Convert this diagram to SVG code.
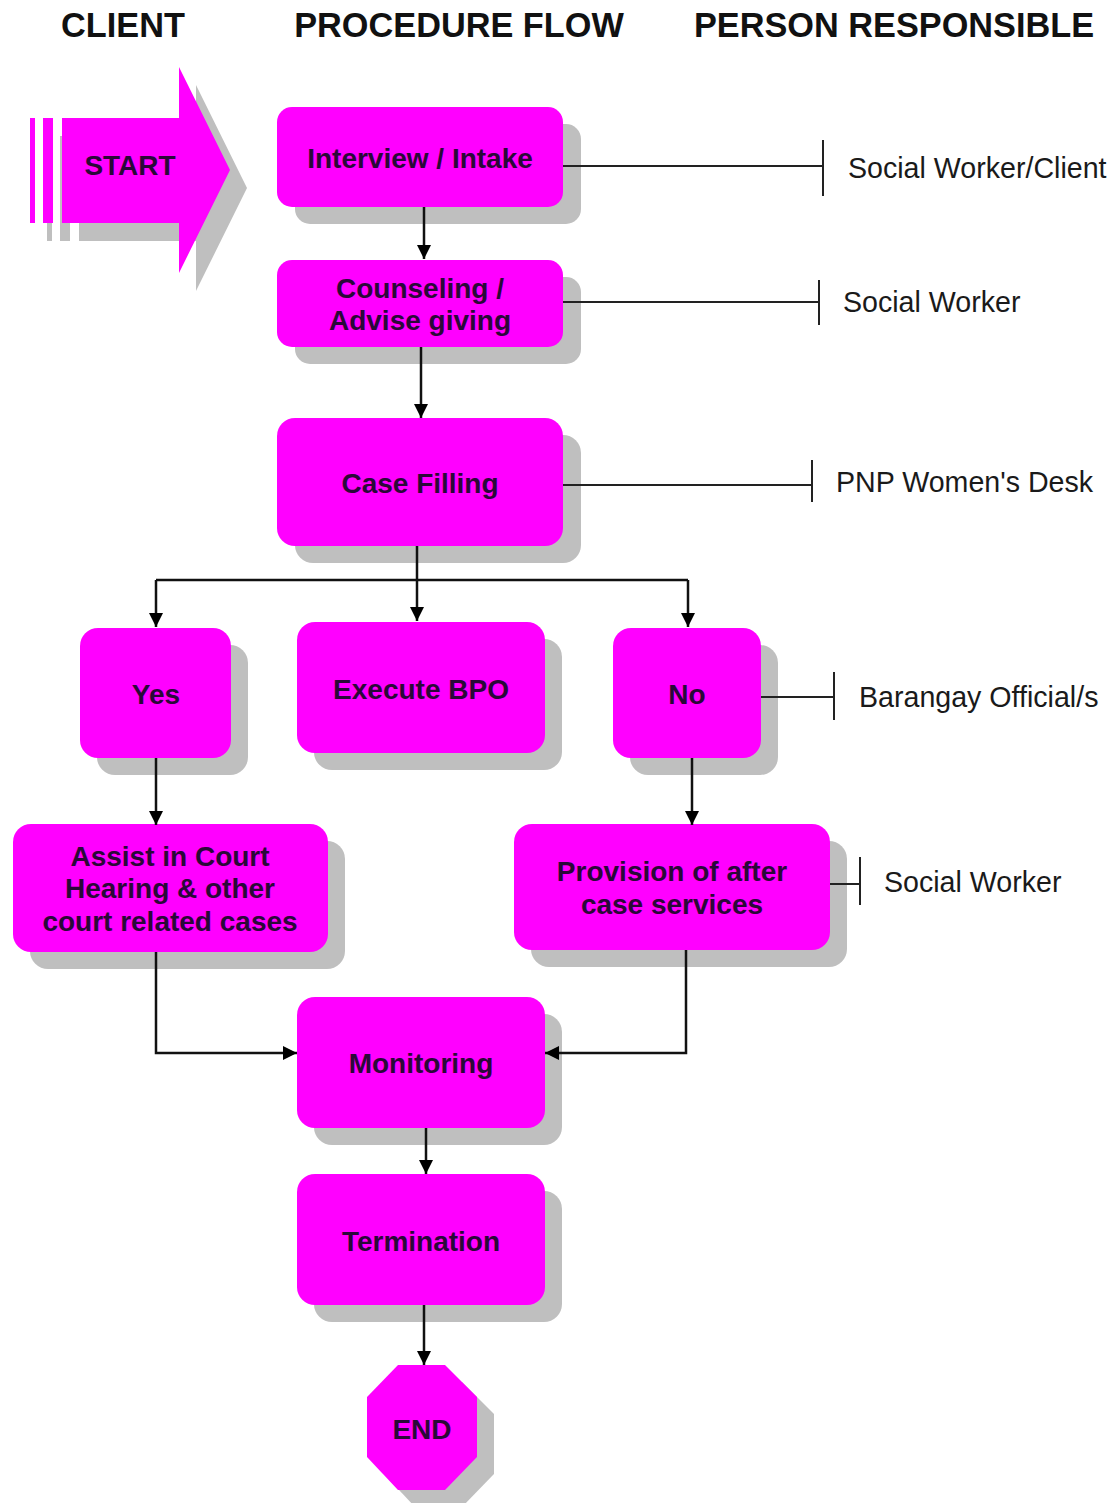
<svg xmlns="http://www.w3.org/2000/svg" width="1115" height="1503" viewBox="0 0 1115 1503">
<defs>
<style>
.title{font-family:"Liberation Sans",Arial,sans-serif;font-weight:bold;font-size:34.3px;fill:#111;text-anchor:middle}
.node{fill:#ff00ff}
.shadow{fill:#bfbfbf}
.nt{font-family:"Liberation Sans",Arial,sans-serif;font-weight:bold;font-size:28px;fill:#2a0838;text-anchor:middle}
.lbl{font-family:"Liberation Sans",Arial,sans-serif;font-size:28.6px;fill:#1a1a1a}
.ln{stroke:#111;stroke-width:2.5;fill:none}
.rl{stroke:#222;stroke-width:2;fill:none}
</style>
<marker id="ah" viewBox="0 0 14 14" refX="14" refY="7" markerWidth="14" markerHeight="14" markerUnits="userSpaceOnUse" orient="auto">
<path d="M0,0 L14,7 L0,14 Z" fill="#000"/>
</marker>
</defs>
<rect width="1115" height="1503" fill="#fff"/>
<g id="titles">
<text class="title" x="123" y="37">CLIENT</text>
<text class="title" x="459" y="37">PROCEDURE FLOW</text>
<text class="title" x="894" y="37">PERSON RESPONSIBLE</text>
</g>
<g id="start">
<g class="shadow" transform="translate(17,18)">
<rect x="30" y="118" width="5" height="105"/>
<rect x="43" y="118" width="10" height="105"/>
<path d="M62,118 H179 V67 L230,170 L179,273 V223 H62 Z"/>
</g>
<g class="node">
<rect x="30" y="118" width="5" height="105"/>
<rect x="43" y="118" width="10" height="105"/>
<path d="M62,118 H179 V67 L230,170 L179,273 V223 H62 Z"/>
</g>
<text class="nt" x="130" y="175">START</text>
</g>
<g id="interview">
<rect class="shadow" x="295" y="124" width="286" height="100" rx="15"/>
<rect class="node" x="277" y="107" width="286" height="100" rx="15"/>
<text class="nt" x="420" y="168">Interview / Intake</text>
</g>
<g id="counseling">
<rect class="shadow" x="295" y="277" width="286" height="87" rx="15"/>
<rect class="node" x="277" y="260" width="286" height="87" rx="15"/>
<text class="nt" x="420" y="298">Counseling /</text>
<text class="nt" x="420" y="330">Advise giving</text>
</g>
<g id="casefilling">
<rect class="shadow" x="295" y="435" width="286" height="128" rx="18"/>
<rect class="node" x="277" y="418" width="286" height="128" rx="18"/>
<text class="nt" x="420" y="493">Case Filling</text>
</g>
<g id="yes">
<rect class="shadow" x="97" y="645" width="151" height="130" rx="18"/>
<rect class="node" x="80" y="628" width="151" height="130" rx="18"/>
<text class="nt" x="156" y="704">Yes</text>
</g>
<g id="executebpo">
<rect class="shadow" x="314" y="639" width="248" height="131" rx="18"/>
<rect class="node" x="297" y="622" width="248" height="131" rx="18"/>
<text class="nt" x="421" y="699">Execute BPO</text>
</g>
<g id="no">
<rect class="shadow" x="630" y="645" width="148" height="130" rx="18"/>
<rect class="node" x="613" y="628" width="148" height="130" rx="18"/>
<text class="nt" x="687" y="704">No</text>
</g>
<g id="assist">
<rect class="shadow" x="30" y="841" width="315" height="128" rx="18"/>
<rect class="node" x="13" y="824" width="315" height="128" rx="18"/>
<text class="nt" x="170" y="866">Assist in Court</text>
<text class="nt" x="170" y="898">Hearing &amp; other</text>
<text class="nt" x="170" y="931">court related cases</text>
</g>
<g id="provision">
<rect class="shadow" x="531" y="841" width="316" height="126" rx="18"/>
<rect class="node" x="514" y="824" width="316" height="126" rx="18"/>
<text class="nt" x="672" y="881">Provision of after</text>
<text class="nt" x="672" y="914">case services</text>
</g>
<g id="monitoring">
<rect class="shadow" x="314" y="1014" width="248" height="131" rx="18"/>
<rect class="node" x="297" y="997" width="248" height="131" rx="18"/>
<text class="nt" x="421" y="1073">Monitoring</text>
</g>
<g id="termination">
<rect class="shadow" x="314" y="1191" width="248" height="131" rx="18"/>
<rect class="node" x="297" y="1174" width="248" height="131" rx="18"/>
<text class="nt" x="421" y="1251">Termination</text>
</g>
<g id="end">
<polygon class="shadow" transform="translate(17,17)" points="398,1365 445,1365 477,1397 477,1457 445,1490 398,1490 367,1457 367,1397"/>
<polygon class="node" points="398,1365 445,1365 477,1397 477,1457 445,1490 398,1490 367,1457 367,1397"/>
<text class="nt" x="422" y="1439">END</text>
</g>
<g id="connectors">
<line class="ln" x1="424" y1="207" x2="424" y2="259" marker-end="url(#ah)"/>
<line class="ln" x1="421" y1="347" x2="421" y2="418" marker-end="url(#ah)"/>
<polyline class="ln" points="417,546 417,580"/>
<polyline class="ln" points="156,580 688,580"/>
<line class="ln" x1="156" y1="580" x2="156" y2="627" marker-end="url(#ah)"/>
<line class="ln" x1="417" y1="580" x2="417" y2="621" marker-end="url(#ah)"/>
<line class="ln" x1="688" y1="580" x2="688" y2="627" marker-end="url(#ah)"/>
<line class="ln" x1="156" y1="758" x2="156" y2="825" marker-end="url(#ah)"/>
<line class="ln" x1="692" y1="758" x2="692" y2="825" marker-end="url(#ah)"/>
<polyline class="ln" points="156,952 156,1053 297,1053" marker-end="url(#ah)"/>
<polyline class="ln" points="686,950 686,1053 545,1053" marker-end="url(#ah)"/>
<line class="ln" x1="426" y1="1128" x2="426" y2="1174" marker-end="url(#ah)"/>
<line class="ln" x1="424" y1="1305" x2="424" y2="1365" marker-end="url(#ah)"/>
<path class="rl" d="M563,166 H823 M823,140 V196"/>
<path class="rl" d="M563,302 H819 M819,280 V325"/>
<path class="rl" d="M563,485 H812 M812,460 V502"/>
<path class="rl" d="M761,697 H834 M834,672 V720"/>
<path class="rl" d="M830,884 H860 M860,857 V905"/>
</g>
<g id="labels">
<text class="lbl" x="848" y="178">Social Worker/Client</text>
<text class="lbl" x="843" y="312">Social Worker</text>
<text class="lbl" x="836" y="492">PNP Women's Desk</text>
<text class="lbl" x="859" y="707">Barangay Official/s</text>
<text class="lbl" x="884" y="892">Social Worker</text>
</g>
</svg>
